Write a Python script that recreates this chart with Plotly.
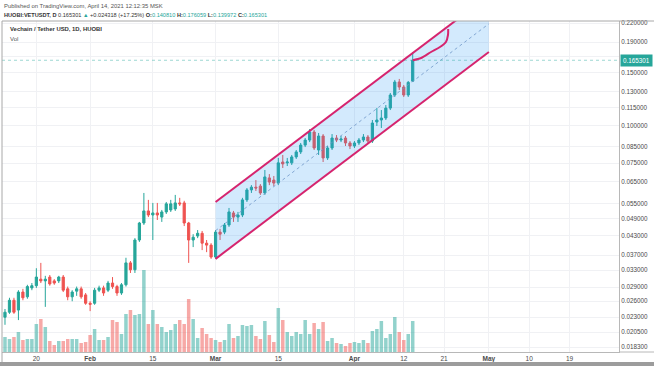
import math
import pandas as pd
import plotly.graph_objects as go

# ---------------- data ----------------
dates = pd.date_range("2021-01-13", "2021-04-14", freq="D")

open_ = [0.0230, 0.0239, 0.0262, 0.0243, 0.0279, 0.0269, 0.0288, 0.0293, 0.0308, 0.0304,
         0.0313, 0.0304, 0.0304, 0.0313, 0.0286, 0.0269, 0.0281, 0.0286, 0.0273, 0.0256,
         0.0256, 0.0283, 0.0288, 0.0283, 0.0299, 0.0291, 0.0277, 0.0295, 0.0349, 0.0331,
         0.0416, 0.0474, 0.0520, 0.0504, 0.0512, 0.0496, 0.0516, 0.0524, 0.0528, 0.0553,
         0.0553, 0.0474, 0.0416, 0.0429, 0.0438, 0.0406, 0.0400, 0.0365, 0.0442, 0.0442,
         0.0467, 0.0512, 0.0496, 0.0504, 0.0566, 0.0611, 0.0624, 0.0629, 0.0597, 0.0670,
         0.0659, 0.0644, 0.0757, 0.0752, 0.0752, 0.0787, 0.0818, 0.0862, 0.0896, 0.0953,
         0.0830, 0.0924, 0.0781, 0.0843, 0.0910, 0.0896, 0.0910, 0.0876, 0.0856, 0.0876,
         0.0896, 0.0917, 0.0889, 0.1029, 0.1045, 0.1061, 0.1145, 0.1266, 0.1399, 0.1346,
         0.1266, 0.140810]
high = [0.0245, 0.0267, 0.0267, 0.0283, 0.0286, 0.0295, 0.0299, 0.0335, 0.0349, 0.0316,
        0.0318, 0.0308, 0.0316, 0.0318, 0.0291, 0.0283, 0.0291, 0.0291, 0.0277, 0.0260,
        0.0288, 0.0293, 0.0293, 0.0304, 0.0313, 0.0295, 0.0299, 0.0363, 0.0354, 0.0422,
        0.0478, 0.0597, 0.0566, 0.0553, 0.0553, 0.0524, 0.0557, 0.0566, 0.0588, 0.0575,
        0.0562, 0.0478, 0.0435, 0.0449, 0.0446, 0.0416, 0.0406, 0.0449, 0.0453, 0.0474,
        0.0532, 0.0520, 0.0516, 0.0575, 0.0620, 0.0634, 0.0659, 0.0639, 0.0712, 0.0690,
        0.0680, 0.0781, 0.0799, 0.0781, 0.0799, 0.0830, 0.0876, 0.0910, 0.0975, 0.0968,
        0.0946, 0.0938, 0.0856, 0.0938, 0.0931, 0.0924, 0.0924, 0.0889, 0.0889, 0.0910,
        0.0938, 0.0931, 0.1045, 0.1146, 0.1128, 0.1172, 0.1286, 0.1421, 0.1432, 0.1367,
        0.1410, 0.176059]
low = [0.0217, 0.0236, 0.0236, 0.0225, 0.0262, 0.0265, 0.0283, 0.0288, 0.0299, 0.0249,
       0.0293, 0.0295, 0.0299, 0.0279, 0.0262, 0.0260, 0.0271, 0.0265, 0.0253, 0.0241,
       0.0253, 0.0279, 0.0271, 0.0279, 0.0286, 0.0271, 0.0273, 0.0291, 0.0323, 0.0323,
       0.0410, 0.0467, 0.0496, 0.0416, 0.0485, 0.0478, 0.0508, 0.0516, 0.0520, 0.0540,
       0.0463, 0.0349, 0.0394, 0.0422, 0.0385, 0.0379, 0.0360, 0.0360, 0.0416, 0.0435,
       0.0460, 0.0478, 0.0478, 0.0496, 0.0557, 0.0597, 0.0606, 0.0588, 0.0588, 0.0634,
       0.0629, 0.0634, 0.0723, 0.0734, 0.0740, 0.0775, 0.0805, 0.0849, 0.0882, 0.0830,
       0.0799, 0.0757, 0.0769, 0.0830, 0.0882, 0.0882, 0.0856, 0.0836, 0.0843, 0.0862,
       0.0882, 0.0876, 0.0876, 0.0998, 0.0983, 0.1045, 0.1128, 0.1247, 0.1316, 0.1247,
       0.1247, 0.139972]
close = [0.0239, 0.0262, 0.0239, 0.0279, 0.0267, 0.0291, 0.0293, 0.0313, 0.0304, 0.0308,
         0.0297, 0.0299, 0.0313, 0.0283, 0.0269, 0.0279, 0.0286, 0.0269, 0.0256, 0.0254,
         0.0283, 0.0288, 0.0277, 0.0299, 0.0291, 0.0277, 0.0295, 0.0349, 0.0331, 0.0416,
         0.0474, 0.0520, 0.0504, 0.0512, 0.0504, 0.0516, 0.0549, 0.0549, 0.0553, 0.0549,
         0.0474, 0.0416, 0.0425, 0.0438, 0.0406, 0.0400, 0.0365, 0.0442, 0.0435, 0.0467,
         0.0516, 0.0496, 0.0504, 0.0566, 0.0611, 0.0624, 0.0620, 0.0597, 0.0675, 0.0649,
         0.0644, 0.0752, 0.0746, 0.0757, 0.0787, 0.0818, 0.0862, 0.0896, 0.0953, 0.0843,
         0.0924, 0.0781, 0.0843, 0.0910, 0.0896, 0.0903, 0.0876, 0.0856, 0.0876, 0.0896,
         0.0917, 0.0889, 0.1021, 0.1045, 0.1061, 0.1145, 0.1266, 0.1399, 0.1346, 0.1266,
         0.1395, 0.165301]
volume = [150, 130, 150, 200, 120, 130, 130, 280, 330, 250,
          110, 70, 110, 110, 130, 130, 130, 90, 100, 170,
          230, 120, 120, 150, 320, 300, 180, 380, 420, 370,
          380, 820, 280, 420, 280, 250, 200, 220, 280, 320,
          280, 530, 330, 140, 240, 180, 140, 120, 100, 120,
          280, 140, 160, 270, 260, 270, 160, 130, 310, 170,
          100, 440, 320, 200, 160, 200, 180, 320, 180, 290,
          230, 300, 110, 140, 90, 80, 60, 90, 100, 90,
          120, 90, 210, 230, 310, 140, 180, 350, 200, 120,
          180, 310]

# drawing (parallel channel + path) anchors
channel_dates = ["2021-03-01", "2021-05-01"]
channel_upper = [0.0557, 0.2717]
channel_lower = [0.0360, 0.1761]
channel_mid = [0.0447, 0.2187]
path_dates = ["2021-04-14 00:00", "2021-04-15 21:00", "2021-04-18 02:00", "2021-04-20 02:00",
              "2021-04-21 10:00", "2021-04-21 21:00", "2021-04-21 22:00"]
path_prices = [0.165301, 0.1682, 0.1761, 0.1830, 0.1902, 0.2006, 0.2101]

x_tickvals = ["2021-01-20", "2021-02-01", "2021-02-15", "2021-03-01", "2021-03-15", "2021-04-01",
              "2021-04-12", "2021-04-21", "2021-05-01", "2021-05-10", "2021-05-19"]
x_ticktext = ["20", "<b>Feb</b>", "15", "<b>Mar</b>", "15", "<b>Apr</b>", "12", "21", "<b>May</b>", "10", "19"]
price_ticks = [0.22, 0.19, 0.17, 0.15, 0.13, 0.115, 0.10, 0.085, 0.075, 0.065, 0.055, 0.049,
               0.043, 0.037, 0.033, 0.029, 0.026, 0.023, 0.0205, 0.0183]
# the 0.17 label sits under the last-price tag, so only its grid line shows
price_ticktext = ["" if v == 0.17 else f"{v:.6f}" for v in price_ticks]

# ---------------- styling ----------------
W, H = 654, 366
ML, MR, MT, MB = 2, 35, 21, 14
PW, PH = W - ML - MR, H - MT - MB
UP, DOWN = "#26a69a", "#ef5350"
PINK = "#d6246e"
FONT = "Liberation Sans"
x_range = ["2021-01-12 08:00", "2021-05-30 01:00"]


def px_to_paper_y(py):
    return (H - MB - py) / PH


def px_to_paper_x(px):
    return (px - ML) / PW


fig = go.Figure()

vol_colors = ["rgba(38,166,154,0.5)" if c >= o else "rgba(239,83,80,0.5)" for o, c in zip(open_, close)]
fig.add_trace(go.Bar(x=dates, y=volume, marker_color=vol_colors, marker_line_width=0,
                     xaxis="x", yaxis="y", hoverinfo="skip"))

# channel fill
fig.add_trace(go.Scatter(
    x=[channel_dates[0], channel_dates[1], channel_dates[1], channel_dates[0], channel_dates[0]],
    y=[channel_upper[0], channel_upper[1], channel_lower[1], channel_lower[0], channel_upper[0]],
    fill="toself", fillcolor="rgba(33,150,243,0.2)", mode="lines", line=dict(width=0),
    xaxis="x", yaxis="y2", hoverinfo="skip"))
fig.add_trace(go.Scatter(x=channel_dates, y=channel_mid, mode="lines",
                         line=dict(color="rgba(110,150,200,0.8)", width=1, dash="dot"),
                         xaxis="x", yaxis="y2", hoverinfo="skip"))

# current price line
fig.add_trace(go.Scatter(x=x_range, y=[close[-1], close[-1]], mode="lines",
                         line=dict(color="rgba(38,166,154,0.45)", width=1, dash="dot"),
                         xaxis="x", yaxis="y2", hoverinfo="skip"))

fig.add_trace(go.Candlestick(
    x=dates, open=open_, high=high, low=low, close=close,
    increasing=dict(line=dict(color=UP, width=1), fillcolor=UP),
    decreasing=dict(line=dict(color=DOWN, width=1), fillcolor=DOWN),
    whiskerwidth=0, xaxis="x", yaxis="y2"))

for ys in (channel_upper, channel_lower):
    fig.add_trace(go.Scatter(x=channel_dates, y=ys, mode="lines",
                             line=dict(color=PINK, width=2), xaxis="x", yaxis="y2", hoverinfo="skip"))

fig.add_trace(go.Scatter(x=path_dates, y=path_prices, mode="lines",
                         line=dict(color=PINK, width=2, shape="spline", smoothing=0.8),
                         xaxis="x", yaxis="y2", hoverinfo="skip"))

vmax = max(volume)
fig.update_layout(
    width=W, height=H, margin=dict(l=ML, r=MR, t=MT, b=MB),
    paper_bgcolor="white", plot_bgcolor="white", showlegend=False,
    font=dict(family=FONT, size=7, color="#4a4a4a"),
    bargap=0.22,
    xaxis=dict(type="date", range=x_range, tickvals=x_tickvals, ticktext=x_ticktext,
               showgrid=True, gridcolor="#f0f1f4", gridwidth=1, zeroline=False,
               showline=True, linecolor="#b8b8b8", linewidth=1, ticks="", ticklen=0,
               tickfont=dict(size=6.5, color="#4a4a4a"), rangeslider=dict(visible=False),
               fixedrange=True),
    yaxis=dict(range=[0, vmax * PH / 82.0], visible=False, showgrid=False, fixedrange=True),
    yaxis2=dict(type="log", overlaying="y", side="right",
                range=[-1.7542, -0.6509], tickvals=price_ticks,
                ticktext=price_ticktext,
                showgrid=True, gridcolor="#f0f1f4", gridwidth=1, zeroline=False,
                showline=True, linecolor="#b8b8b8", linewidth=1, ticks="", ticklen=0,
                tickfont=dict(size=6.3, color="#4a4a4a"), fixedrange=True),
)

# frame lines
fig.add_shape(type="line", xref="paper", yref="paper", x0=px_to_paper_x(2), x1=px_to_paper_x(654),
              y0=1, y1=1, line=dict(color="#a8a8a8", width=1))
fig.add_shape(type="line", xref="paper", yref="paper", x0=0, x1=0,
              y0=1, y1=px_to_paper_y(362), line=dict(color="#a8a8a8", width=1))
fig.add_shape(type="line", xref="paper", yref="paper", x0=1, x1=px_to_paper_x(654),
              y0=0, y1=0, line=dict(color="#b8b8b8", width=1))
fig.add_shape(type="rect", xref="paper", yref="paper", x0=px_to_paper_x(0), x1=px_to_paper_x(654),
              y0=px_to_paper_y(366), y1=px_to_paper_y(362), line=dict(width=0), fillcolor="#9c9c9c")

# texts
fig.add_annotation(xref="paper", yref="paper", x=px_to_paper_x(2), y=px_to_paper_y(6),
                   xanchor="left", yanchor="middle", showarrow=False,
                   text="Published on TradingView.com, April 14, 2021 12:12:35 MSK",
                   font=dict(family=FONT, size=5.9, color="#555555"))
T = UP
hdr = ("<b>HUOBI:VETUSDT, D</b> 0.165301 <span style='color:%s'>▲</span> +0.024318 (+17.25%%) "
       "<b>O:</b><span style='color:%s'>0.140810</span> <b>H:</b><span style='color:%s'>0.176059</span> "
       "<b>L:</b><span style='color:%s'>0.139972</span> <b>C:</b><span style='color:%s'>0.165301</span>"
       % (T, T, T, T, T))
fig.add_annotation(xref="paper", yref="paper", x=px_to_paper_x(2), y=px_to_paper_y(15),
                   xanchor="left", yanchor="middle", showarrow=False, text=hdr,
                   font=dict(family=FONT, size=5.6, color="#333333"))
fig.add_annotation(xref="paper", yref="paper", x=px_to_paper_x(8), y=px_to_paper_y(29),
                   xanchor="left", yanchor="middle", showarrow=False,
                   text="<b>Vechain / Tether USD, 1D, HUOBI</b>",
                   font=dict(family=FONT, size=5.9, color="#333333"))
fig.add_annotation(xref="paper", yref="paper", x=px_to_paper_x(8), y=px_to_paper_y(39),
                   xanchor="left", yanchor="middle", showarrow=False, text="Vol",
                   font=dict(family=FONT, size=6, color="#555555"))
fig.add_annotation(xref="paper", yref="y2", x=1, y=math.log10(close[-1]),
                   xanchor="left", yanchor="middle", showarrow=False,
                   text="0.165301", bgcolor=UP, borderpad=2, xshift=1,
                   font=dict(family=FONT, size=6.3, color="white"))

fig.write_html("out.html", config={"displayModeBar": False},
               post_script="document.body.style.margin='0px';document.body.style.overflow='hidden';")
